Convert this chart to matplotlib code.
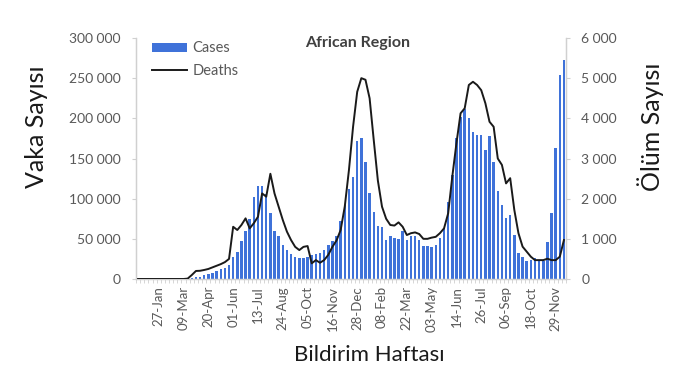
import matplotlib
matplotlib.use("Agg")
import matplotlib.pyplot as plt
from matplotlib.ticker import FuncFormatter, MultipleLocator, FixedLocator
import numpy as np

plt.rcParams['font.family'] = ['Lato', 'DejaVu Sans']

# Weekly categories (week index 0 = 23-Dec-2019), labels every 6 weeks
tick_positions = [5, 11, 17, 23, 29, 35, 41, 47, 53, 59, 65, 71, 77, 83, 89, 95, 101]
tick_labels = ["27-Jan", "09-Mar", "20-Apr", "01-Jun", "13-Jul", "24-Aug", "05-Oct",
               "16-Nov", "28-Dec", "08-Feb", "22-Mar", "03-May", "14-Jun", "26-Jul",
               "06-Sep", "18-Oct", "29-Nov"]

cases = [
    0, 0, 0, 0, 0, 0, 0, 0, 0, 0,
    0, 100, 300, 800, 2000, 3000, 5000, 6500, 8000, 10000,
    12000, 14000, 17000, 28000, 34000, 47000, 60000, 75000, 102000, 116000,
    116000, 106000, 82000, 60000, 53000, 42000, 36000, 31000, 28000, 26000,
    26000, 27000, 30000, 31000, 32000, 36000, 42000, 47000, 53000, 72000,
    92000, 112000, 127000, 172000, 176000, 146000, 107000, 84000, 66000, 65000,
    49000, 54000, 51000, 50000, 60000, 49000, 53000, 53000, 48000, 41000,
    41000, 40000, 42000, 51000, 63000, 96000, 129000, 175000, 202000, 212000,
    200000, 183000, 179000, 179000, 161000, 178000, 146000, 109000, 92000, 76000,
    80000, 55000, 32000, 28000, 22000, 24000, 26000, 24000, 22000, 46000,
    82000, 163000, 254000, 273000,
]

deaths = [
    0, 0, 0, 0, 0, 0, 0, 0, 0, 0,
    0, 0, 10, 100, 200, 205, 225, 250, 290, 330,
    370, 420, 500, 1300, 1220, 1345, 1510, 1260, 1390, 1550,
    2130, 2050, 2620, 2130, 1800, 1470, 1180, 970, 800, 720,
    800, 820, 390, 470, 405, 470, 600, 800, 960, 1220,
    1810, 2710, 3790, 4660, 5000, 4960, 4500, 3460, 2450, 1800,
    1500, 1345, 1330, 1410, 1300, 1095, 1140, 1160, 1120, 1000,
    1000, 1030, 1050, 1140, 1260, 1635, 2550, 3380, 4125, 4250,
    4830, 4910, 4830, 4700, 4375, 3915, 3790, 3000, 2840, 2380,
    2510, 1720, 1140, 805, 680, 555, 470, 470, 470, 505,
    470, 470, 555, 970,
]

n = len(cases)
x = np.arange(n)

W, H = 684, 381
fig = plt.figure(figsize=(W / 100, H / 100), dpi=100)
ax = fig.add_axes([136 / W, 1 - 279 / H, (566 - 136) / W, (279 - 38) / H])
ax2 = ax.twinx()

tick_color = '#595959'
spine_color = '#d0d0d0'

bars = ax.bar(x, cases, width=0.6, color='#3f72d9', label='Cases', zorder=2)
line, = ax2.plot(x, deaths, color='#1a1a1a', lw=1.4, label='Deaths', zorder=3)

ax.set_xlim(-0.5, n - 0.5)
ax.set_ylim(0, 300000)
ax2.set_ylim(0, 6000)
ax.yaxis.set_major_locator(MultipleLocator(50000))
ax2.yaxis.set_major_locator(MultipleLocator(1000))

fmt = FuncFormatter(lambda v, p: f"{int(v):,}".replace(",", " "))
ax.yaxis.set_major_formatter(fmt)
ax2.yaxis.set_major_formatter(fmt)

ax.set_xticks(tick_positions)
ax.set_xticklabels(tick_labels, rotation=90)
ax.xaxis.set_minor_locator(FixedLocator(np.arange(-0.5, n, 1.0)))
ax.tick_params(axis='x', which='major', length=0, pad=5, labelsize=9.5, colors=tick_color)
ax.tick_params(axis='x', which='minor', length=3, color=spine_color)
ax.tick_params(axis='y', length=3, color=spine_color, labelsize=10, labelcolor=tick_color, pad=8)
ax2.tick_params(axis='y', length=3, color=spine_color, labelsize=10, labelcolor=tick_color, pad=8)

for a in (ax, ax2):
    a.spines['top'].set_visible(False)
    for s in ('left', 'right', 'bottom'):
        a.spines[s].set_color(spine_color)
        a.spines[s].set_linewidth(0.9)

fig.text(358 / W, 1 - 43 / H, "African Region", ha='center', va='center',
         fontsize=11.5, fontweight='bold', color='#404040')
fig.text(37 / W, 1 - 127 / H, "Vaka Sayısı", rotation=90, ha='center', va='center',
         fontsize=18, color='#1a1a1a')
fig.text(651 / W, 1 - 127 / H, "Ölüm Sayısı", rotation=90, ha='center', va='center',
         fontsize=18, color='#1a1a1a')
fig.text(369 / W, 1 - 355 / H, "Bildirim Haftası", ha='center', va='center',
         fontsize=16, color='#1a1a1a')

leg = ax2.legend([bars, line], ['Cases', 'Deaths'], loc='upper left',
                 bbox_to_anchor=(0.024, 1.01), frameon=False, fontsize=10.5,
                 handlelength=2.4, handleheight=0.55, handletextpad=0.35,
                 labelspacing=0.6, borderaxespad=0)
for t in leg.get_texts():
    t.set_color(tick_color)

fig.savefig("out.png", dpi=100)
